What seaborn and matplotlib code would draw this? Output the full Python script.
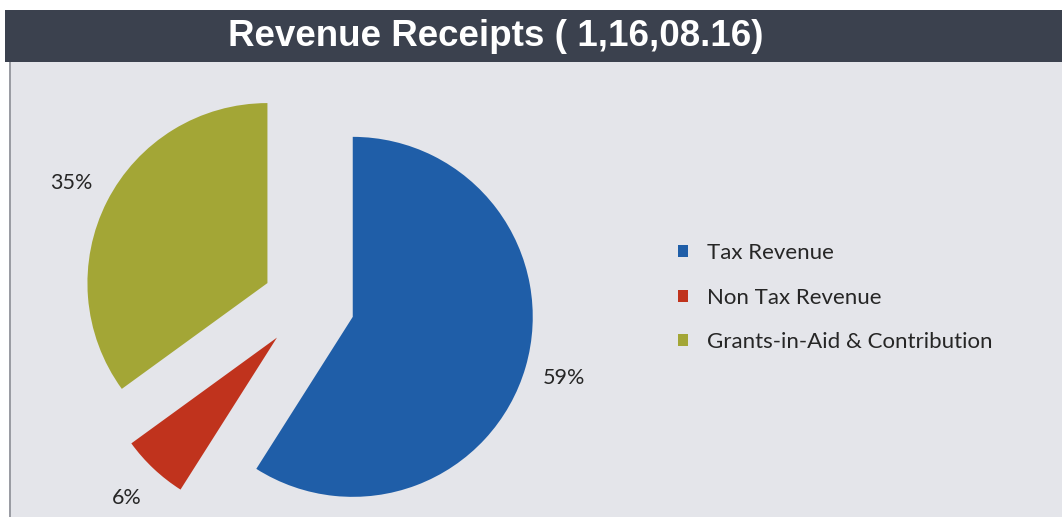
import matplotlib
matplotlib.use("Agg")
import matplotlib.pyplot as plt
from matplotlib.patches import Rectangle
import seaborn as sns

# Revenue receipt shares (%)
categories = ["Tax Revenue", "Non Tax Revenue", "Grants-in-Aid & Contribution"]
shares = [59, 6, 35]
slice_colors = ["#1f5ea8", "#c0331d", "#a3a636"]
title_text = "Revenue Receipts ( 1,16,08.16)"

sns.set_theme(style="white")
plt.rcParams["font.family"] = ["Lato", "DejaVu Sans"]

W, H = 1062, 517
PANEL = "#e4e5ea"
fig = plt.figure(figsize=(W / 100, H / 100), dpi=100, facecolor=PANEL)


def px_rect(x0, y0, x1, y1, color, z=0):
    """Rectangle given in pixel coords measured from the top-left corner."""
    fig.add_artist(Rectangle((x0 / W, 1 - y1 / H), (x1 - x0) / W, (y1 - y0) / H,
                             transform=fig.transFigure, facecolor=color,
                             edgecolor="none", zorder=z))


# white page margin, thin frame line and the dark title banner
px_rect(0, 0, W, 10, "white")
px_rect(0, 0, 9, H, "white")
px_rect(9, 62, 10.5, H, "#9a9ca3")
px_rect(5, 10, W, 62, "#3b414e")
fig.text(496 / W, 1 - 37 / H, title_text, color="white", fontsize=26.5,
         fontweight="bold", family=["Liberation Sans", "DejaVu Sans"],
         ha="center", va="center")

# pie axes: 1 data unit == 180 px, pie centre at pixel (308.5, 304)
R = 180.0
cx, cy = 308.5, 304.0
ax_l, ax_r, ax_t, ax_b = 0, 620, 62, H
ax = fig.add_axes([ax_l / W, 1 - ax_b / H, (ax_r - ax_l) / W, (ax_b - ax_t) / H])
ax.set_facecolor("none")

wedges, _, autotexts = ax.pie(
    shares,
    colors=slice_colors,
    startangle=90,
    counterclock=False,
    explode=[0.256] * len(shares),
    autopct=lambda p: f"{p:.0f}%",
    pctdistance=1.22,
    wedgeprops=dict(linewidth=0),
    textprops=dict(fontsize=15.5, color="#262626"),
)
ax.set_xlim((ax_l - cx) / R, (ax_r - cx) / R)
ax.set_ylim((cy - ax_b) / R, (cy - ax_t) / R)
ax.axis("off")

fig.legend(
    wedges, categories,
    loc="center left", bbox_to_anchor=(678 / W, 1 - 297.5 / H),
    frameon=False, fontsize=16, labelcolor="#262626",
    handlelength=0.46, handleheight=0.46, handletextpad=0.85,
    labelspacing=1.1, borderpad=0, borderaxespad=0,
)

fig.savefig("out.png", dpi=100, facecolor=PANEL)
